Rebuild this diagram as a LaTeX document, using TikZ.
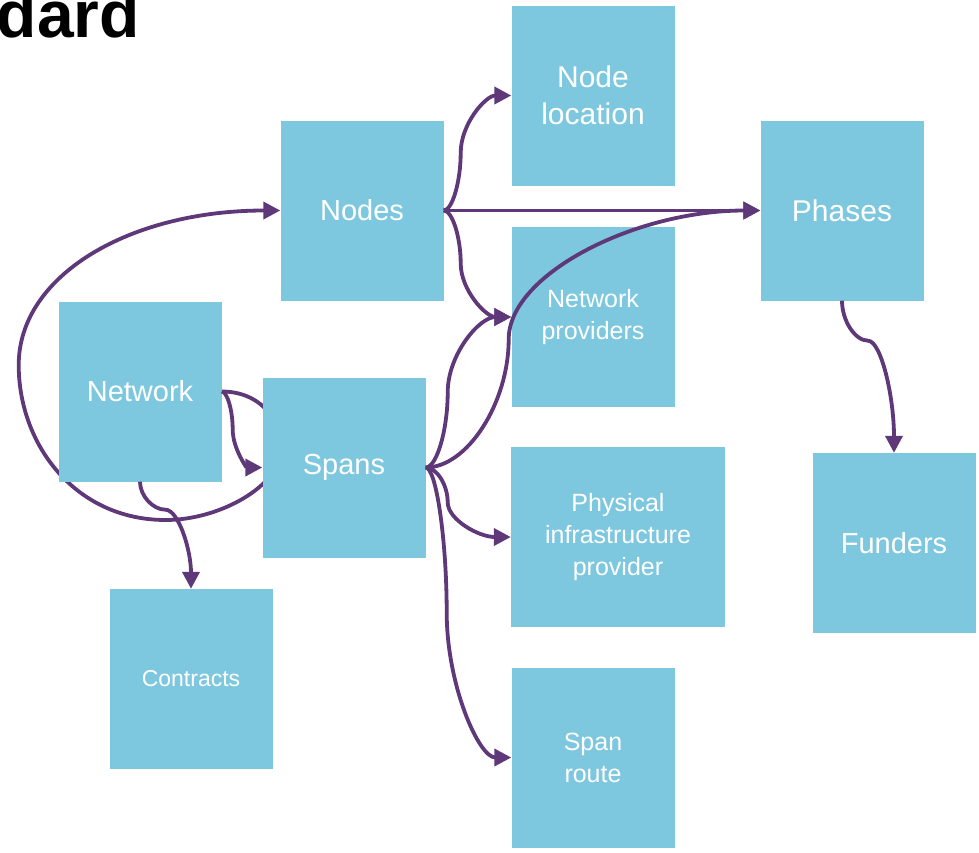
\documentclass[tikz,border=0pt]{standalone}
\usepackage{fontspec}
\setmainfont{Liberation Sans}
\usetikzlibrary{arrows.meta}
\usetikzlibrary{backgrounds}
\definecolor{boxblue}{RGB}{125, 200, 223}
\definecolor{linkpurple}{RGB}{94, 56, 120}
\tikzset{
  box/.style={rectangle, minimum width=163pt, minimum height=180pt, inner sep=0pt, fill=boxblue, text=white, align=center, font=\fontsize{29}{35}\selectfont},
  smalltext/.style={font=\fontsize{25}{32}\selectfont},
  link/.style={line width=3.8pt, color=linkpurple, -{Triangle[length=17pt,width=17pt]}}
}

\begin{document}
\begin{tikzpicture}
\useasboundingbox (0pt, 0pt) rectangle (979pt, -852pt);
\node (title) [anchor=base east, inner sep=0pt, font=\fontsize{66}{66}\selectfont\bfseries] at (140pt, -37pt) {dard};
% boxes
\node (nodeloc) [box, font=\fontsize{30}{37}\selectfont] at (593pt, -95.5pt) {Node\\location};
\node (nodes) [box] at (362pt, -210.5pt) {Nodes};
\node (phases) [box, font=\fontsize{30}{36}\selectfont] at (842pt, -210.5pt) {Phases};
\node (netprov) [box, smalltext] at (593pt, -317pt) {Network\\providers};
\node (network) [box] at (140pt, -391.5pt) {Network};
\node (spans) [box] at (344pt, -467.5pt) {Spans};
\node (physinfra) [box, smalltext, minimum width=214pt] at (618pt, -537pt) {Physical\\infrastructure\\provider};
\node (funders) [box] at (894pt, -543pt) {Funders};
\node (contracts) [box, font=\fontsize{23}{28}\selectfont] at (191pt, -679pt) {Contracts};
\node (spanroute) [box, smalltext] at (593pt, -757.5pt) {Span\\route};
% the loop runs behind the Spans box
\begin{pgfonlayer}{background}
\draw [link] (network.east) .. controls +(35pt, 0pt) and +(0pt, 35pt) .. ++(59pt, -58.5pt) .. controls +(0pt, -35pt) and +(55pt, 0pt) .. ++(-115pt, -70pt) .. controls +(-90pt, 0pt) and +(0pt, -80pt) .. ++(-147pt, 155pt) .. controls +(0pt, 90pt) and +(-150pt, 0pt) .. (nodes.west);
\end{pgfonlayer}
% connectors
\draw [link] (nodes.east) .. controls +(8.5pt, 0pt) and +(0pt, -29pt) .. ++(17pt, 57.75pt) .. controls +(0pt, 29pt) and +(-25.5pt, 0pt) .. (nodeloc.west);
\draw [link] (nodes.east) -- (phases.west);
\draw [link] (nodes.east) .. controls +(8.5pt, 0pt) and +(0pt, 26.5pt) .. ++(17pt, -53pt) .. controls +(0pt, -26.5pt) and +(-25.5pt, 0pt) .. (netprov.west);
\draw [link] (spans.east) .. controls +(11pt, 0pt) and +(0pt, -37.6pt) .. ++(22pt, 75.25pt) .. controls +(0pt, 37.6pt) and +(-32pt, 0pt) .. (netprov.west);
\draw [link] (spans.east) .. controls +(41.5pt, 0pt) and +(0pt, -64pt) .. ++(83pt, 128.5pt) .. controls +(0pt, 64pt) and +(-126.5pt, 0pt) .. (phases.west);
\draw [link] (spans.east) .. controls +(11pt, 0pt) and +(0pt, 17.4pt) .. ++(22pt, -34.75pt) .. controls +(0pt, -17.4pt) and +(-32pt, 0pt) .. (physinfra.west);
\draw [link] (spans.east) .. controls +(10.5pt, 0pt) and +(0pt, 72.5pt) .. ++(21pt, -145pt) .. controls +(0pt, -72.5pt) and +(-32.5pt, 0pt) .. (spanroute.west);
\draw [link] (network.east) .. controls +(5.5pt, 0pt) and +(0pt, 19pt) .. ++(11pt, -38pt) .. controls +(0pt, -19pt) and +(-15.5pt, 0pt) .. (spans.west);
\draw [link] (network.south) .. controls +(0pt, -14pt) and +(-12.75pt, 0pt) .. ++(25.5pt, -28pt) .. controls +(12.75pt, 0pt) and +(0pt, 39.5pt) .. (contracts.north);
\draw [link] (phases.south) .. controls +(0pt, -20pt) and +(-13pt, 0pt) .. ++(26pt, -40pt) .. controls +(13pt, 0pt) and +(0pt, 56.5pt) .. (funders.north);
\end{tikzpicture}
\end{document}
